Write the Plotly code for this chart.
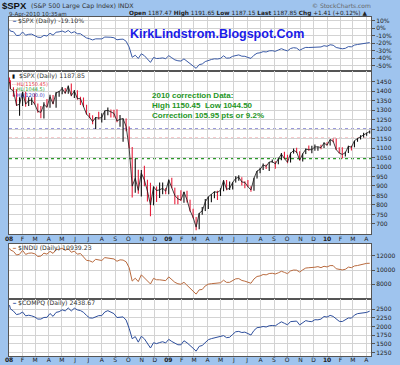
import pandas as pd
import plotly.graph_objects as go

# ---------------- data (weekly values) ----------------
week_dates = [pd.Timestamp("2008-01-02")] + list(pd.date_range("2008-01-04", "2010-04-09", freq="W-FRI"))

spx_first_open = 1467.97
spx_base_close = 1468.36  # 31-Dec-2007 close, base for the % panel

spx_close = [
    1447.16,
    1411.63, 1401.02, 1325.19, 1330.61,
    1395.42, 1331.29, 1349.99, 1353.11, 1330.63,
    1293.37, 1288.14, 1329.51, 1315.22,
    1370.40, 1332.83, 1390.33, 1397.84,
    1413.90, 1388.28, 1425.35, 1375.93, 1400.38,
    1360.68, 1360.03, 1317.93, 1278.38,
    1262.90, 1239.49, 1260.68, 1257.76,
    1260.31, 1296.32, 1298.20, 1292.20, 1282.83,
    1242.31, 1251.70, 1255.08, 1213.27,
    1099.23, 899.22, 940.55, 876.77, 968.75,
    930.99, 873.29, 800.03, 896.24,
    876.07, 879.73, 887.88, 872.80,
    931.80, 890.35, 850.12, 831.95, 825.88,
    868.60, 826.84, 770.05, 735.09,
    683.38, 756.55, 768.54, 815.94,
    842.50, 856.56, 869.60, 866.23,
    877.52, 929.23, 882.88, 887.00, 919.14,
    940.09, 946.21, 921.23, 918.90,
    896.42, 879.13, 940.38, 979.26, 987.48,
    1010.48, 1004.09, 1026.13, 1028.93,
    1016.40, 1042.73, 1068.30, 1044.38,
    1025.21, 1071.49, 1087.68, 1079.60, 1036.19,
    1069.30, 1093.48, 1091.38, 1091.49,
    1105.98, 1106.41, 1102.47, 1126.48, 1115.10,
    1144.98, 1136.03, 1091.76, 1073.87,
    1066.19, 1075.51, 1109.17, 1104.49,
    1138.70, 1149.99, 1159.90, 1166.59,
    1178.10, 1187.85,
]
spx_high = [
    1471.77,
    1456.8, 1420, 1410, 1368,
    1396, 1396, 1368, 1367, 1388,
    1335, 1321, 1341, 1359,
    1381, 1380, 1395, 1400,
    1422, 1416, 1429, 1440, 1406,
    1404, 1370, 1366, 1328,
    1285, 1273, 1263, 1291,
    1284, 1297, 1313, 1303, 1302,
    1304, 1274, 1256, 1256,
    1214, 1106, 1044, 985, 984,
    1007, 933, 917, 897,
    897, 918, 918, 889,
    934, 943, 891, 851, 877,
    870, 875, 827, 780,
    736, 758, 789, 832,
    845, 857, 871, 875,
    888, 930, 931, 924, 920,
    951, 956, 946.5, 925,
    931, 898, 943, 979.5, 996,
    1018, 1013, 1027, 1039,
    1030, 1049, 1074, 1080,
    1065, 1076, 1097, 1101, 1083,
    1071, 1097, 1113, 1112,
    1119, 1107, 1117, 1130, 1130,
    1145.4, 1150, 1150.45, 1104,
    1104, 1080, 1112, 1112,
    1139, 1151, 1167, 1181,
    1181, 1192,
]
spx_low = [
    1442.07,
    1411.2, 1370, 1322, 1270,
    1322, 1317, 1321, 1327, 1330,
    1286, 1257, 1256, 1313,
    1312, 1331, 1312, 1370,
    1384, 1387, 1386, 1373, 1364,
    1355, 1327, 1316, 1276,
    1257, 1225, 1200, 1251,
    1235, 1248, 1273, 1261, 1261,
    1236, 1212, 1133, 1189,
    1098, 839, 865, 859, 845,
    899, 818, 741, 798,
    815, 837, 857, 857,
    857, 888, 804, 804, 821,
    812, 813, 765, 730,
    667, 672, 749, 768,
    779, 814, 836, 826,
    847, 872, 878, 879, 881,
    918, 928, 903, 888,
    895, 869, 875, 939, 967,
    984, 990, 979, 1022,
    991, 1015, 1036, 1041,
    1020, 1024, 1071, 1074, 1034,
    1029, 1068, 1086, 1073,
    1086, 1086, 1094, 1100, 1114,
    1114, 1130, 1090, 1071,
    1044.5, 1056, 1074, 1087,
    1104, 1133, 1145, 1156,
    1165, 1176,
]
indu_close = [
    13043.96,
    12800.18, 12606.30, 12099.30, 12207.17,
    12743.19, 12182.13, 12348.21, 12381.02, 12266.39,
    11893.69, 11951.09, 12361.32, 12216.40,
    12609.42, 12325.42, 12849.36, 12891.86,
    13058.20, 12745.88, 12986.80, 12479.63, 12638.32,
    12209.81, 12307.35, 11842.69, 11346.51,
    11288.53, 11100.54, 11496.57, 11370.69,
    11326.32, 11734.32, 11659.90, 11628.06, 11543.55,
    11220.96, 11421.99, 11388.44, 11143.13,
    10325.38, 8451.19, 8852.22, 8378.95, 9325.01,
    8943.81, 8497.31, 8046.42, 8829.04,
    8635.42, 8629.68, 8579.11, 8515.55,
    9034.69, 8599.18, 8281.22, 8077.56, 8000.86,
    8280.59, 7850.41, 7365.67, 7062.93,
    6626.94, 7223.98, 7278.38, 7776.18,
    8017.59, 8083.38, 8131.33, 8076.29,
    8212.41, 8574.65, 8268.64, 8277.32, 8500.33,
    8763.13, 8799.26, 8539.73, 8438.39,
    8280.74, 8146.52, 8743.94, 9093.24, 9171.61,
    9370.07, 9321.40, 9505.96, 9544.20,
    9441.27, 9605.41, 9820.20, 9665.19,
    9487.67, 9864.94, 9995.91, 9972.18, 9712.73,
    10023.42, 10270.47, 10318.16, 10309.92,
    10388.90, 10471.58, 10328.89, 10520.10, 10428.05,
    10618.19, 10609.65, 10172.98, 10067.33,
    10012.23, 10099.14, 10402.35, 10325.26,
    10566.20, 10624.69, 10741.98, 10850.36,
    10927.07, 10939.23,
]
compq_close = [
    2609.63,
    2504.65, 2439.94, 2340.02, 2360.92,
    2413.36, 2304.85, 2321.80, 2303.35, 2271.48,
    2212.49, 2212.49, 2258.11, 2261.18,
    2370.98, 2290.24, 2402.97, 2422.93,
    2476.85, 2445.52, 2528.85, 2444.67, 2522.66,
    2474.56, 2454.50, 2406.09, 2315.63,
    2245.38, 2239.08, 2282.78, 2310.53,
    2310.96, 2414.10, 2452.52, 2414.71, 2367.52,
    2255.88, 2261.27, 2273.90, 2183.34,
    1947.39, 1649.51, 1711.29, 1552.03, 1720.95,
    1647.40, 1516.85, 1384.35, 1535.57,
    1509.31, 1540.72, 1564.32, 1530.24,
    1632.21, 1571.59, 1529.33, 1477.29, 1476.42,
    1591.71, 1534.36, 1441.23, 1377.84,
    1293.85, 1431.50, 1457.27, 1545.20,
    1621.87, 1652.54, 1673.07, 1694.29,
    1719.20, 1739.00, 1680.14, 1692.01, 1774.33,
    1849.42, 1858.80, 1827.47, 1838.22,
    1796.52, 1756.03, 1886.61, 1965.96, 1978.50,
    2000.25, 1985.52, 2020.90, 2028.77,
    2018.78, 2080.90, 2132.86, 2090.92,
    2048.11, 2139.28, 2156.80, 2154.47, 2045.11,
    2112.44, 2167.88, 2146.04, 2138.44,
    2194.35, 2190.06, 2211.69, 2285.69, 2269.15,
    2317.17, 2287.99, 2205.29, 2147.35,
    2141.12, 2183.53, 2243.87, 2238.26,
    2326.35, 2367.66, 2374.41, 2395.13,
    2402.58, 2438.67,
]

hl_levels = [1150.45, 1044.5, 1200.0]
hl_labels = ["HL(1150.45)", "HL(1044.5)", "HL(1200.0)"]
hl_colors = ["#e8323c", "#2a9a2a", "#3434b8"]

pct_ticks = [10, 0, -10, -20, -30, -40, -50]
spx_ticks = list(range(700, 1451, 50))
indu_ticks = [8000, 10000, 12000]
compq_ticks = [1250, 1500, 1750, 2000, 2250, 2500]

month_ticks = list(pd.date_range("2008-01-01", "2010-04-01", freq="MS"))
month_labels = [("<b>%02d</b>" % (d.year % 100)) if d.month == 1 else d.strftime("%b")[0] for d in month_ticks]

spx_open = [spx_first_open] + spx_close[:-1]
spx_pct = [c / spx_base_close * 100 - 100 for c in spx_close]

# ---------------- figure ----------------
W, H = 400, 365
ML, MR, MT, MB = 9, 29, 17, 9
PW, PH = W - ML - MR, H - MT - MB

def fx(px):
    return (px - ML) / PW

def fy(py):
    return (H - MB - py) / PH

BG = "#9fc4ee"
GRID = "#d3d3d3"
AX = "#555555"
SMALL = "DejaVu Sans"

fig = go.Figure()
fig.add_trace(go.Scatter(x=week_dates, y=spx_pct, mode="lines",
                         line=dict(color="#3a5aa6", width=1), xaxis="x", yaxis="y"))
fig.add_trace(go.Ohlc(x=week_dates, open=spx_open, high=spx_high, low=spx_low, close=spx_close,
                      increasing=dict(line=dict(color="#111111", width=1.1)),
                      decreasing=dict(line=dict(color="#e8203c", width=1.1)),
                      tickwidth=0.15, xaxis="x2", yaxis="y2"))
fig.add_trace(go.Scatter(x=week_dates, y=spx_close, mode="lines",
                         line=dict(color="#111111", width=0.8), xaxis="x2", yaxis="y2"))
fig.add_trace(go.Scatter(x=week_dates, y=indu_close, mode="lines",
                         line=dict(color="#b96a3e", width=1), xaxis="x3", yaxis="y3"))
fig.add_trace(go.Scatter(x=week_dates, y=compq_close, mode="lines",
                         line=dict(color="#2d4e9c", width=1), xaxis="x4", yaxis="y4"))

xrange = ["2007-12-31 18:00", "2010-04-12"]

def xax(anchor, labels, standoff=0):
    return dict(type="date", range=xrange, anchor=anchor, domain=[0, 1],
                tickmode="array", tickvals=month_ticks, ticktext=month_labels,
                showticklabels=labels, ticks="", showgrid=True, gridcolor=GRID, gridwidth=1,
                showline=True, mirror=True, linecolor=AX, linewidth=1, zeroline=False,
                tickfont=dict(family=SMALL, size=6, color="#222"), automargin=False,
                ticklabelstandoff=standoff,
                rangeslider=dict(visible=False), fixedrange=True)

def yax(anchor, dom, rng, ticks, suffix=""):
    return dict(anchor=anchor, domain=dom, range=rng, side="right",
                tickmode="array", tickvals=ticks, ticktext=["%d%s" % (t, suffix) for t in ticks],
                ticks="outside", ticklen=3, tickcolor=AX,
                showgrid=True, gridcolor=GRID, gridwidth=1, zeroline=False,
                showline=True, mirror=True, linecolor=AX, linewidth=1,
                tickfont=dict(family=SMALL, size=6, color="#222"), automargin=False,
                fixedrange=True)

fig.update_layout(
    width=W, height=H, template="none",
    margin=dict(l=ML, r=MR, t=MT, b=MB, pad=0),
    paper_bgcolor=BG, plot_bgcolor="white", showlegend=False,
    xaxis=xax("y", False), xaxis2=xax("y2", True, -1), xaxis3=xax("y3", False),
    xaxis4=xax("y4", True, -2),
    yaxis=yax("x", [fy(71), 1], [-57, 15], pct_ticks, "%"),
    yaxis2=yax("x2", [fy(234), fy(71)], [647, 1506], spx_ticks),
    yaxis3=yax("x3", [fy(299), fy(244)], [5944, 13636], indu_ticks),
    yaxis4=yax("x4", [0, fy(299)], [1156, 2786], compq_ticks),
)

for lvl, col in zip(hl_levels, hl_colors):
    fig.add_shape(type="line", xref="x2 domain", yref="y2", x0=0, x1=1, y0=lvl, y1=lvl,
                  line=dict(color=col, width=1.3, dash="dot"), layer="below")

def ann(text, px, py, size, color="#222", family=SMALL, xanchor="left"):
    fig.add_annotation(text=text, x=fx(px), y=fy(py), xref="paper", yref="paper",
                       xanchor=xanchor, yanchor="middle", showarrow=False,
                       font=dict(family=family, size=size, color=color), borderpad=0)

# header
ann("<b>$SPX</b>", 1, 5.5, 9.5, "#111", "Liberation Sans")
ann("(S&amp;P 500 Large Cap Index) INDX", 30, 6, 6.3, "#333")
ann("9-Apr-2010 10:35am", 8, 14.3, 5.6, "#333")
ann("<b>Open</b> 1187.47 <b>High</b> 1191.65 <b>Low</b> 1187.15 <b>Last</b> 1187.85 <b>Chg</b> +1.41 (+0.12%) ▲",
    368, 13.8, 5.8, "#222", SMALL, "right")
ann("© StockCharts.com", 372, 5.5, 6, "#666", SMALL, "right")

# blog title
ann("<b>KirkLindstrom.Blogspot.Com</b>", 217, 34, 12.5, "#1a1ae8", "Liberation Sans", "center")

# correction text
green = "#1f961f"
ann("<b>2010 correction Data:</b>", 151, 95.7, 8, green, "Liberation Sans")
ann("<b>High 1150.45  Low 1044.50</b>", 151, 105.7, 8, green, "Liberation Sans")
ann("<b>Correction 105.95 pts or 9.2%</b>", 151, 115.3, 8, green, "Liberation Sans")

# legends
ann("<b>━</b>", 10.5, 21.2, 5, "#3a5aa6")
ann("$SPX (Daily) -19.10%", 17, 21.2, 6.2, "#333")
ann("▮", 11, 76, 5.5, "#111")
ann("$SPX (Daily) 1187.85", 17.5, 76, 6.2, "#333")
for i, (lab, col) in enumerate(zip(hl_labels, hl_colors)):
    ann("···" + lab, 10.5, 83.8 + i * 5.6, 5, col)
ann("<b>━</b>", 10.5, 247.8, 5, "#b96a3e")
ann("$INDU (Daily) 10939.23", 17, 247.8, 6.2, "#333")
ann("<b>━</b>", 10.5, 303.3, 5, "#2d4e9c")
ann("$COMPQ (Daily) 2438.67", 17, 303.3, 6.2, "#333")

fig.write_html("out.html", config={"displayModeBar": False, "staticPlot": True},
               post_script="document.body.style.margin='0';document.body.style.overflow='hidden';")
